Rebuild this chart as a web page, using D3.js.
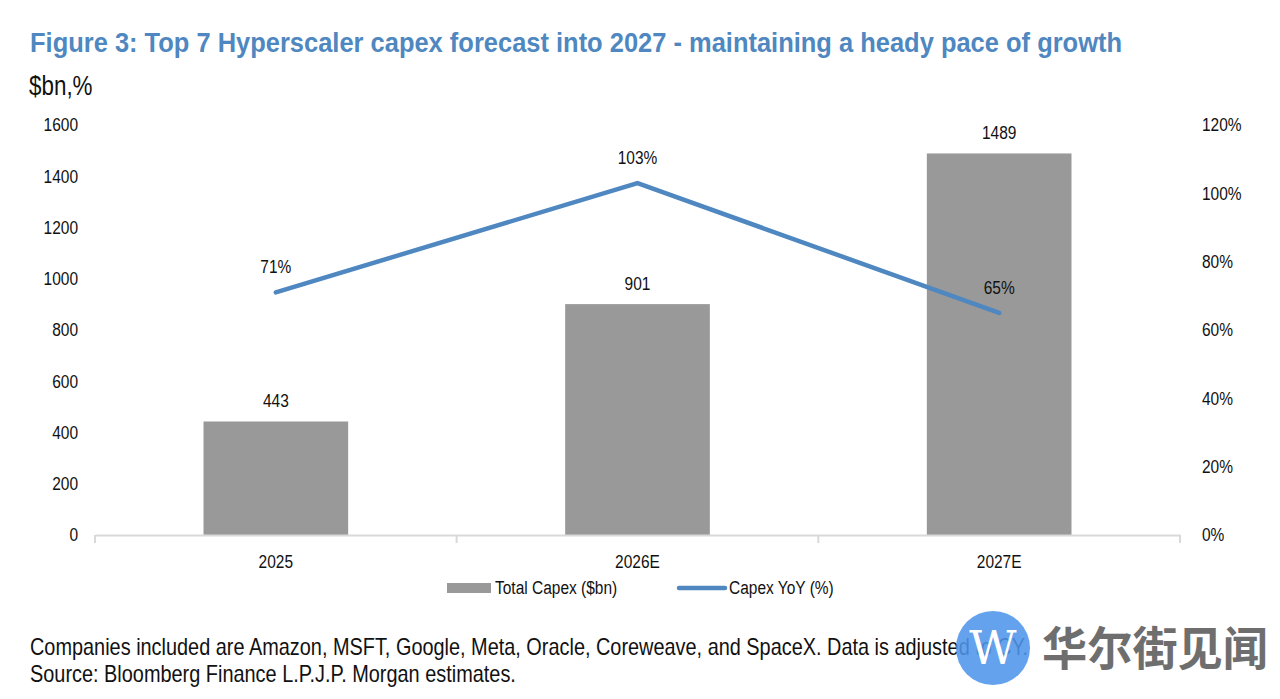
<!DOCTYPE html>
<html>
<head>
<meta charset="utf-8">
<script src="https://cdn.jsdelivr.net/npm/d3@7"></script>
<style>
  body { margin: 0; background: #fff; }
  svg { display: block; }
  text { font-family: "Liberation Sans", Arial, sans-serif; fill: #111; }
</style>
</head>
<body>
<svg id="chart" width="1280" height="699"></svg>
<script>
// chart data
var categories = ["2025", "2026E", "2027E"];
var capex = [443, 901, 1489];          // Total Capex ($bn)
var capexYoY = [71, 103, 65];          // Capex YoY (%)
var leftTicks = [0, 200, 400, 600, 800, 1000, 1200, 1400, 1600];
var rightTicks = [0, 20, 40, 60, 80, 100, 120];

var BAR_COLOR = "#999999";
var LINE_COLOR = "#4f87c0";
var FS = "18px";
var NARROW = 0.86;   // fake a condensed face, none is installed

var svg = d3.select("#chart");
var margin = {left: 95, right: 100, top: 125, bottom: 164};
var W = 1280, H = 699;
var x0 = margin.left, x1 = W - margin.right;
var yTop = margin.top, yBot = H - margin.bottom;

var x = d3.scaleBand().domain(categories).range([x0, x1]).paddingInner(0.6).paddingOuter(0.3);
var xOuter = d3.scaleBand().domain(categories).range([x0, x1]);
var yL = d3.scaleLinear().domain([0, 1600]).range([yBot, yTop]);
var yR = d3.scaleLinear().domain([0, 120]).range([yBot, yTop]);

function condense(sel, k){
    sel.each(function(){
        var w = this.getComputedTextLength();
        d3.select(this).attr("textLength", w * k).attr("lengthAdjust", "spacingAndGlyphs");
    });
}

// squeeze a left-anchored text to a given width with a transform
function squeezeTo(txt, px, py, width){
    var w = txt.node().getComputedTextLength();
    txt.attr("x", 0).attr("y", 0)
        .attr("transform", "translate(" + px + "," + py + ") scale(" + (width / w) + ",1)");
}

// title
svg.append("text").attr("x", 30).attr("y", 52)
    .attr("textLength", 1092).attr("lengthAdjust", "spacingAndGlyphs")
    .style("font-size", "28px").style("font-weight", "bold").style("fill", LINE_COLOR)
    .text("Figure 3: Top 7 Hyperscaler capex forecast into 2027 - maintaining a heady pace of growth");

svg.append("text").attr("x", 29).attr("y", 95)
    .style("font-size", "27px")
    .text("$bn,%").call(condense, 0.83);

// left axis labels
var leftAxis = d3.axisLeft(yL).tickValues(leftTicks).tickSize(0).tickPadding(17)
    .tickFormat(d3.format("d"));
svg.append("g").attr("transform", "translate(" + x0 + ",0)").call(leftAxis)
    .call(function(g){ g.select(".domain").remove(); })
    .selectAll("text").style("font-size", FS).style("font-family", null).style("fill", "#111")
    .call(condense, NARROW);

// right axis labels
var rightAxis = d3.axisRight(yR).tickValues(rightTicks).tickSize(0).tickPadding(22)
    .tickFormat(function(d){ return d + "%"; });
svg.append("g").attr("transform", "translate(" + x1 + ",0)").call(rightAxis)
    .call(function(g){ g.select(".domain").remove(); })
    .selectAll("text").style("font-size", FS).style("font-family", null).style("fill", "#111")
    .call(condense, NARROW);

// bars
svg.selectAll("rect.bar").data(capex).enter().append("rect")
    .attr("class", "bar")
    .attr("x", function(d, i){ return x(categories[i]); })
    .attr("width", x.bandwidth())
    .attr("y", function(d){ return yL(d); })
    .attr("height", function(d){ return yBot - yL(d); })
    .attr("fill", BAR_COLOR);

// bottom axis
var bottomAxis = d3.axisBottom(xOuter).tickSize(0).tickPadding(20);
var gx = svg.append("g").attr("transform", "translate(0," + yBot + ")").call(bottomAxis);
gx.select(".domain").attr("stroke", "#d9d9d9").attr("stroke-width", 2);
gx.selectAll("text").style("font-size", FS).style("font-family", null).style("fill", "#111")
    .call(condense, NARROW);
var bounds = categories.map(function(c){ return xOuter(c); }).concat([x1]);
gx.selectAll("line.sep").data(bounds).enter().append("line")
    .attr("class", "sep")
    .attr("x1", function(d){ return d; }).attr("x2", function(d){ return d; })
    .attr("y1", 0).attr("y2", 8)
    .attr("stroke", "#d9d9d9").attr("stroke-width", 2);

// bar value labels
svg.selectAll("text.barlbl").data(capex).enter().append("text")
    .attr("class", "barlbl")
    .attr("x", function(d, i){ return x(categories[i]) + x.bandwidth() / 2; })
    .attr("y", function(d){ return yL(d) - 14; })
    .attr("text-anchor", "middle").style("font-size", FS)
    .text(function(d){ return d; })
    .call(condense, NARROW);

// YoY line
var cx = function(i){ return xOuter(categories[i]) + xOuter.bandwidth() / 2; };
var line = d3.line().x(function(d, i){ return cx(i); }).y(function(d){ return yR(d); });
svg.append("path").datum(capexYoY)
    .attr("d", line).attr("fill", "none")
    .attr("stroke", LINE_COLOR).attr("stroke-width", 4.5).attr("stroke-linecap", "round");

svg.selectAll("text.linelbl").data(capexYoY).enter().append("text")
    .attr("class", "linelbl")
    .attr("x", function(d, i){ return cx(i); })
    .attr("y", function(d){ return yR(d) - 19; })
    .attr("text-anchor", "middle").style("font-size", FS)
    .text(function(d){ return d + "%"; })
    .call(condense, NARROW);

// legend
var lg = svg.append("g").attr("transform", "translate(447,588)");
lg.append("rect").attr("x", 0).attr("y", -5).attr("width", 44).attr("height", 10).attr("fill", BAR_COLOR);
lg.append("text").attr("x", 48).attr("y", 6).style("font-size", FS).text("Total Capex ($bn)")
    .call(condense, NARROW);
lg.append("line").attr("x1", 232).attr("x2", 278).attr("y1", 0).attr("y2", 0)
    .attr("stroke", LINE_COLOR).attr("stroke-width", 4.5).attr("stroke-linecap", "round");
lg.append("text").attr("x", 282).attr("y", 6).style("font-size", FS).text("Capex YoY (%)")
    .call(condense, NARROW);

// footnotes
var fn1 = svg.append("text").style("font-size", "23px")
    .text("Companies included are Amazon, MSFT, Google, Meta, Oracle, Coreweave, and SpaceX. Data is adjusted to CY.");
squeezeTo(fn1, 30, 655, 998);
var fn2 = svg.append("text").style("font-size", "23px")
    .text("Source: Bloomberg Finance L.P.J.P. Morgan estimates.");
squeezeTo(fn2, 30, 682, 486);

// watermark
var wm = svg.append("g");
wm.append("circle").attr("cx", 993).attr("cy", 648).attr("r", 37).attr("fill", "#4f95ea").attr("opacity", 0.88);
wm.append("text").attr("x", 993).attr("y", 664).attr("text-anchor", "middle")
    .style("font-size", "46px").style("fill", "#fff")
    .style("font-family", "'DejaVu Serif', serif").text("W");
var cn = wm.append("text")
    .style("font-size", "46px").style("font-weight", "bold").style("fill", "#6e6e6e")
    .style("font-family", "'Noto Sans CJK SC', sans-serif").text("华尔街见闻");
squeezeTo(cn, 1042, 665, 226);
</script>
</body>
</html>
